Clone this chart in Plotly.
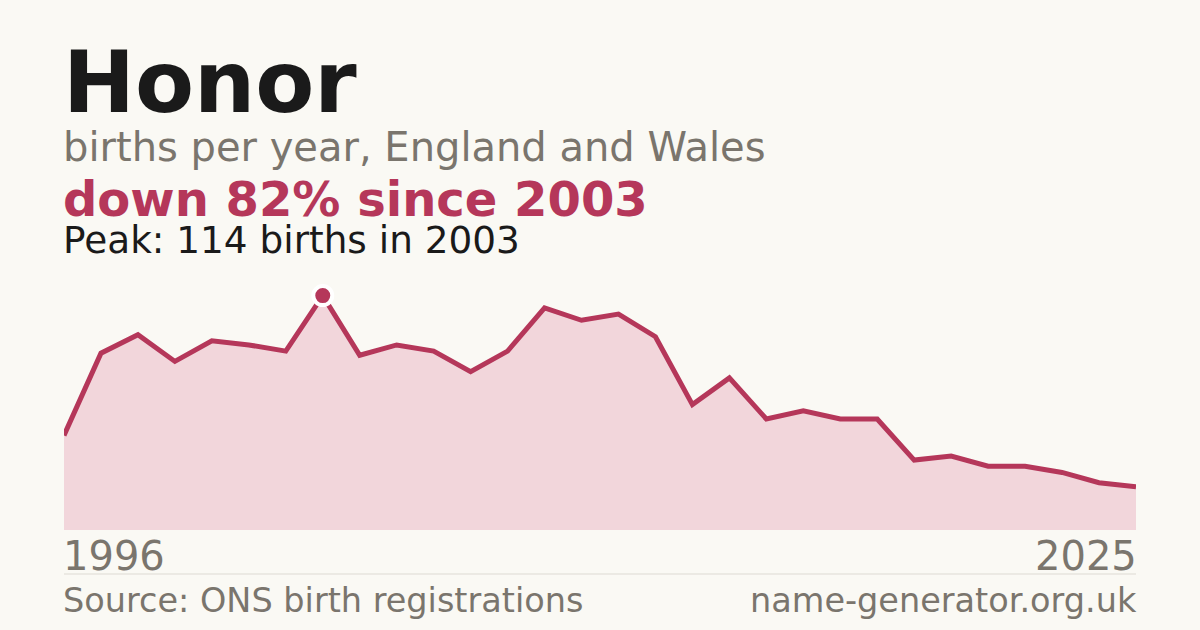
import plotly.graph_objects as go

# births per year
years = list(range(1996, 2026))
births = [46, 86, 95, 82, 92, 90, 87, 114, 85, 90,
          87, 77, 87, 108, 102, 105, 94, 61, 74, 54,
          58, 54, 54, 34, 36, 31, 31, 28, 23, 21]

peak_year = 2003
peak_value = 114

name = "Honor"
subtitle = "births per year, England and Wales"
headline = "down 82% since 2003"
peak_text = "Peak: 114 births in 2003"
source_text = "Source: ONS birth registrations"
site_text = "name-generator.org.uk"

BG = "#faf9f4"
RED = "#b5375a"
FILL = "#f2d6db"
INK = "#1a1a1a"
GREY = "#7a756d"
FONT = "DejaVu Sans"

W, H = 1200, 630
LEFT, RIGHT = 64, 1136
TOP, BOTTOM = 273, 530
PAD = 3  # annotation box padding to cancel


def py(y_px):
    # pixel row -> paper y
    return (BOTTOM - y_px) / (BOTTOM - TOP)


def px(x_px):
    return (x_px - LEFT) / (RIGHT - LEFT)


fig = go.Figure()
fig.add_trace(go.Scatter(
    x=years, y=births, mode="lines",
    line=dict(color=RED, width=5),
    fill="tozeroy", fillcolor=FILL,
    hoverinfo="skip",
))
fig.add_trace(go.Scatter(
    x=[peak_year], y=[peak_value], mode="markers",
    marker=dict(size=19, color=RED, line=dict(color="white", width=4)),
    hoverinfo="skip",
))

texts = [
    (name, 82, 86, INK, True),
    (subtitle, 147, 40, GREY, False),
    (headline, 199, 48, RED, True),
    (peak_text, 240, 37.4, INK, False),
]
for txt, y_px, size, color, bold in texts:
    fig.add_annotation(
        text=f"<b>{txt}</b>" if bold else txt,
        xref="paper", yref="paper", x=px(LEFT - PAD), y=py(y_px),
        xanchor="left", yanchor="middle", showarrow=False,
        font=dict(family=FONT, size=size, color=color),
    )

fig.add_annotation(text=str(years[0]), xref="paper", yref="paper",
                   x=px(LEFT - PAD), y=py(556), xanchor="left", yanchor="middle", showarrow=False,
                   font=dict(family=FONT, size=40, color=GREY))
fig.add_annotation(text=str(years[-1]), xref="paper", yref="paper",
                   x=px(RIGHT + PAD), y=py(556), xanchor="right", yanchor="middle", showarrow=False,
                   font=dict(family=FONT, size=40, color=GREY))
fig.add_annotation(text=source_text, xref="paper", yref="paper",
                   x=px(LEFT - PAD), y=py(600), xanchor="left", yanchor="middle", showarrow=False,
                   font=dict(family=FONT, size=33.5, color=GREY))
fig.add_annotation(text=site_text, xref="paper", yref="paper",
                   x=px(RIGHT + PAD), y=py(600), xanchor="right", yanchor="middle", showarrow=False,
                   font=dict(family=FONT, size=33.5, color=GREY))

fig.add_shape(type="line", xref="paper", yref="paper",
              x0=0, x1=1, y0=py(574), y1=py(574),
              line=dict(color="#dddad3", width=1))

fig.update_layout(
    width=W, height=H,
    margin=dict(l=LEFT, r=W - RIGHT, t=TOP, b=H - BOTTOM),
    paper_bgcolor=BG, plot_bgcolor=BG,
    showlegend=False,
    xaxis=dict(range=[years[0], years[-1]], visible=False, fixedrange=True),
    yaxis=dict(range=[0, 125], visible=False, fixedrange=True),
)

fig.write_html(
    "out.html",
    config={"displayModeBar": False},
    post_script="document.body.style.margin='0';document.body.style.background='%s';" % BG,
)
